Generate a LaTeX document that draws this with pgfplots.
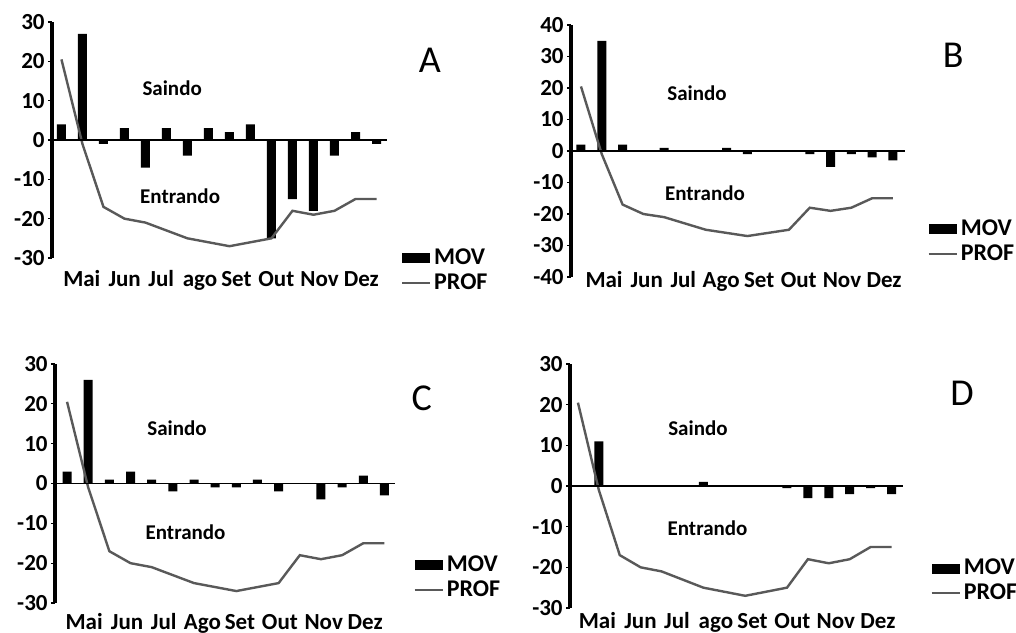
\documentclass[border=0pt]{standalone}
\usepackage{fontspec}
\setmainfont{Carlito}
\usepackage{pgfplots}
\usepackage{pgfplotstable}
\pgfplotsset{compat=1.18}

\definecolor{profgray}{rgb}{0.35,0.35,0.35}

% quinzenas 0..15, PROF igual nos quatro paineis
\pgfplotstableread{
x  prof  a    b   c   d
0  20.5  4    2   3   0
1  -1    27   35  26  11
2  -17   -1   2   1   0
3  -20   3    0   3   0
4  -21   -7   1   1   0
5  -23   3    0   -2  0
6  -25   -4   0   1   1
7  -26   3    1   -1  0
8  -27   2    -1  -1  0
9  -26   4    0   1   0
10 -25   -25  0   -2  -0.5
11 -18   -15  -1  0   -3
12 -19   -18  -5  -4  -3
13 -18   -4   -1  -1  -2
14 -15   2    -2  2   -0.5
15 -15   -1   -3  -3  -2
}\mydata

\tikzset{
  lbl/.style={font=\bfseries\fontsize{10.5}{11}\selectfont},
  letra/.style={font=\fontsize{19}{21}\selectfont},
}

\pgfplotsset{
  painel/.style={
    scale only axis,
    anchor=south west,
    clip=false,
    axis y line*=left,
    axis x line*=bottom,
    x axis line style={draw=none},
    y axis line style={line width=2pt},
    xtick style={draw=none},
    ytick style={black, line width=0.6pt},
    tick align=outside,
    major tick length=2pt,
    /pgf/number format/assume math mode=true,
    yticklabel style={font=\bfseries\fontsize{11.5}{12}\selectfont, inner sep=1.5pt},
    xticklabel style={font=\bfseries\fontsize{11.5}{12}\selectfont, anchor=base, inner sep=0pt},
    legend cell align=left,
    legend style={draw=none, fill=none, anchor=west, inner sep=0pt,
      font=\bfseries\fontsize{12}{12}\selectfont, row sep=-1pt,
      nodes={inner xsep=1.5pt}},
  },
  movbar/.style={ybar, bar width=4.5pt, fill=black, draw=none,
    legend image code/.code={\fill[black] (0pt,-2.5pt) rectangle (14pt,2.5pt);}},
  profline/.style={profgray, line width=1.2pt,
    legend image code/.code={\draw[profgray, line width=1.2pt] (0pt,0pt) -- (14pt,0pt);}},
}

\begin{document}
\begin{tikzpicture}
\useasboundingbox (0,0) rectangle (508pt,316pt);

% A
\begin{axis}[painel, at={(26pt,187pt)}, width=167.5pt, height=118pt,
  xmin=-0.45, xmax=15.5, ymin=-30, ymax=30, ytick={-30,-20,...,30},
  xtick={0.97,3.01,4.75,6.60,8.33,10.23,12.29,14.28},
  xticklabels={Mai,Jun,Jul,ago,Set,Out,Nov,Dez},
  xticklabel style={yshift=-12.5pt},
  legend style={at={(1.04,-0.053)}}]
  \addplot[movbar] table[x=x, y=a] {\mydata};
  \addlegendentry{MOV}
  \addplot[profline] table[x=x, y=prof] {\mydata};
  \addlegendentry{PROF}
  \addplot[black, line width=0.8pt, forget plot] coordinates {(-0.45,0) (15.5,0)};
  \node[lbl] at (axis cs:5.27,13.2) {Saindo};
  \node[lbl] at (axis cs:5.65,-14.2) {Entrando};
  \node[letra] at (axis description cs:1.128,0.839) {A};
\end{axis}

% B
\begin{axis}[painel, at={(285.5pt,177.5pt)}, width=167pt, height=126pt,
  xmin=-0.48, xmax=15.58, ymin=-40, ymax=40, ytick={-40,-30,...,40},
  xtick={1.11,3.16,4.92,6.74,8.57,10.47,12.55,14.57},
  xticklabels={Mai,Jun,Jul,Ago,Set,Out,Nov,Dez},
  xticklabel style={yshift=-3.5pt},
  legend style={at={(1.066,0.141)}}]
  \addplot[movbar] table[x=x, y=b] {\mydata};
  \addlegendentry{MOV}
  \addplot[profline] table[x=x, y=prof] {\mydata};
  \addlegendentry{PROF}
  \addplot[black, line width=0.8pt, forget plot] coordinates {(-0.48,0) (15.58,0)};
  \node[lbl] at (axis cs:5.58,18.2) {Saindo};
  \node[lbl] at (axis cs:5.96,-13.4) {Entrando};
  \node[letra] at (axis description cs:1.144,0.881) {B};
\end{axis}

% C
\begin{axis}[painel, at={(27.5pt,14.5pt)}, width=170pt, height=119.5pt,
  xmin=-0.57, xmax=15.5, ymin=-30, ymax=30, ytick={-30,-20,...,30},
  xtick={0.81,2.84,4.57,6.40,8.17,10.06,12.13,14.09},
  xticklabels={Mai,Jun,Jul,Ago,Set,Out,Nov,Dez},
  xticklabel style={yshift=-11pt},
  legend style={at={(1.053,0.107)}}]
  \addplot[movbar] table[x=x, y=c] {\mydata};
  \addlegendentry{MOV}
  \addplot[profline] table[x=x, y=prof] {\mydata};
  \addlegendentry{PROF}
  \addplot[black, line width=0.8pt, forget plot] coordinates {(-0.57,0) (15.5,0)};
  \node[lbl] at (axis cs:5.2,13.8) {Saindo};
  \node[lbl] at (axis cs:5.6,-12.3) {Entrando};
  \node[letra] at (axis description cs:1.079,0.858) {C};
\end{axis}

% D
\begin{axis}[painel, at={(285pt,12pt)}, width=166.5pt, height=122pt,
  xmin=-0.38, xmax=15.55, ymin=-30, ymax=30, ytick={-30,-20,...,30},
  xtick={0.93,2.99,4.74,6.60,8.35,10.26,12.34,14.35},
  xticklabels={Mai,Jun,Jul,ago,Set,Out,Nov,Dez},
  xticklabel style={yshift=-8.3pt},
  legend style={at={(1.081,0.111)}}]
  \addplot[movbar] table[x=x, y=d] {\mydata};
  \addlegendentry{MOV}
  \addplot[profline] table[x=x, y=prof] {\mydata};
  \addlegendentry{PROF}
  \addplot[black, line width=0.8pt, forget plot] coordinates {(-0.38,0) (15.55,0)};
  \node[lbl] at (axis cs:5.74,14.3) {Saindo};
  \node[lbl] at (axis cs:6.2,-10.3) {Entrando};
  \node[letra] at (axis description cs:1.177,0.881) {D};
\end{axis}
\end{tikzpicture}
\end{document}
